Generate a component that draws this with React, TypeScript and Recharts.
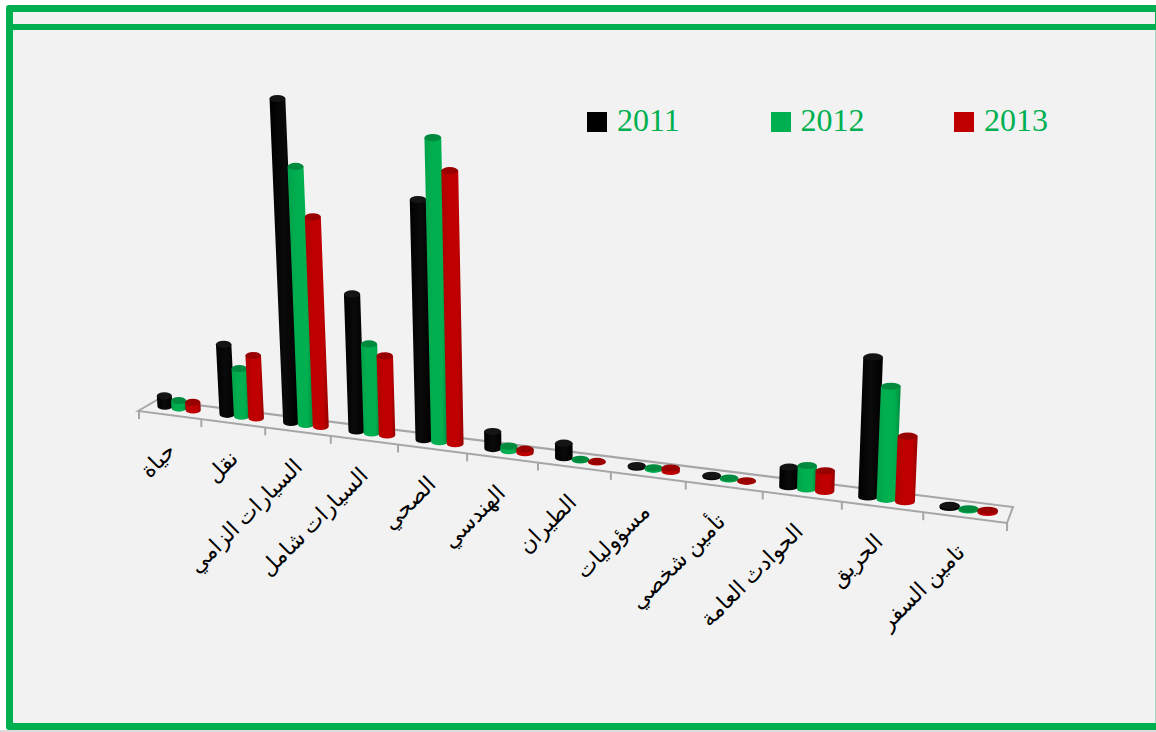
import { BarChart, Bar, XAxis, YAxis, Legend } from "recharts";

const categories = [
  "حياة",
  "نقل",
  "السيارات  الزامي",
  "السيارات شامل",
  "الصحي",
  "الهندسي",
  "الطيران",
  "مسؤوليات",
  "تأمين شخصي",
  "الحوادث العامة",
  "الحريق",
  "تامين السفر",
];

const values2011 = [10.5, 70, 324, 137, 240, 17, 14.5, 1.5, 1.5, 19.5, 140, 2];
const values2012 = [7.5, 47.5, 258, 89, 304, 4.5, 0.5, 1.5, 1, 23.5, 113, 1];
const values2013 = [7.5, 62.5, 209.5, 79, 273, 3.5, 0.5, 3.5, 0.5, 20.5, 65.5, 2];

const data = categories.map((name, i) => ({
  name,
  y2011: values2011[i],
  y2012: values2012[i],
  y2013: values2013[i],
}));

const WIDTH = 1156;
const HEIGHT = 732;
const BAND = WIDTH / categories.length;
const GREEN = "#00b050";
const RED = "#c00000";

// the original is a tilted 3D chart, so plot x goes through a small perspective map
const frontX = (u: number) => 139 + (61.54 * u) / (1 - 0.01244 * u);
const frontY = (x: number) => 411 + (x - 139) * 0.129;
const project = (plotX: number) => {
  const u = plotX / BAND;
  return frontX(u) + 9 - u / 2;
};

function Cylinder(props: any) {
  const { x, width, height, id, cap } = props;
  const cx = project(x + width / 2);
  const rx = ((project(x + width) - project(x)) / 2) * 1.07;
  const ry = 3.6;
  const baseY = frontY(cx) - 4.5 - ry;
  const h = Math.max(height, 0);
  // bars lean towards the vanishing point
  const topX = cx + (cx - 600) * 0.000136 * h;
  const topY = baseY - h;
  return (
    <g>
      <path
        d={`M${topX - rx},${topY} L${cx - rx},${baseY} A${rx},${ry} 0 0 0 ${cx + rx},${baseY} L${topX + rx},${topY} Z`}
        fill={`url(#${id})`}
      />
      <ellipse cx={topX} cy={topY} rx={rx} ry={ry} fill={cap} />
    </g>
  );
}

function CategoryTick(props: any) {
  const { x, payload } = props;
  const px = project(x) - 2;
  const py = frontY(px) + 36;
  return (
    <text
      x={px}
      y={py}
      textAnchor="end"
      fontFamily="'Liberation Serif', 'DejaVu Sans', serif"
      fontSize={22}
      fill="#000"
      transform={`rotate(-45 ${px} ${py})`}
    >
      {payload.value}
    </text>
  );
}

function Floor() {
  const ticks = Array.from({ length: categories.length + 1 }, (_, i) => frontX(i));
  return (
    <g stroke="#a6a6a6" strokeWidth={2} fill="none">
      <path d="M138,411 L157,400 L1013,507 L1007,523 Z" />
      {ticks.map((x, i) => (
        <line key={i} x1={x} x2={x} y1={frontY(x)} y2={frontY(x) + 8} />
      ))}
    </g>
  );
}

function YearLegend(props: any) {
  return (
    <div style={{ display: "flex" }}>
      {props.payload.map((item: any) => (
        <div key={item.value} style={{ width: 183.5, display: "flex", alignItems: "center" }}>
          <span style={{ width: 20, height: 20, marginTop: 4, background: item.color, marginRight: 10 }} />
          <span
            style={{
              color: GREEN,
              fontFamily: "'Liberation Serif', serif",
              fontSize: 32,
              lineHeight: "40px",
            }}
          >
            {item.value}
          </span>
        </div>
      ))}
    </div>
  );
}

export default function App() {
  return (
    <div style={{ position: "absolute", left: 0, top: 0, width: WIDTH, height: HEIGHT, background: "#fff", overflow: "hidden" }}>
      <div style={{ position: "absolute", left: 6, top: 5, right: 0, height: 725, background: GREEN, borderRadius: "3px 0 0 3px" }} />
      <div style={{ position: "absolute", left: 13, top: 12, right: 1, height: 12, background: "#f2f2f2" }} />
      <div style={{ position: "absolute", left: 13, top: 30, right: 1, height: 693, background: "#f2f2f2" }} />
      <div style={{ position: "absolute", left: 0, top: 730, right: 0, height: 2, background: "#dcdcdc" }} />
      <div style={{ position: "absolute", right: 0, top: 30, width: 1, height: 693, background: "#a8d8c4" }} />
      <div style={{ position: "absolute", left: 0, top: 0 }}>
        <BarChart
          width={WIDTH}
          height={HEIGHT}
          data={data}
          margin={{ top: 0, right: 0, bottom: 0, left: 0 }}
          barCategoryGap="16.25%"
          barGap={0}
        >
          <defs>
            <linearGradient id="cylBlack" x1="0" x2="1" y1="0" y2="0">
              <stop offset="0" stopColor="#000" />
              <stop offset="0.5" stopColor="#0a0a0a" />
              <stop offset="1" stopColor="#000" />
            </linearGradient>
            <linearGradient id="cylGreen" x1="0" x2="1" y1="0" y2="0">
              <stop offset="0" stopColor="#00a34a" />
              <stop offset="0.4" stopColor={GREEN} />
              <stop offset="0.75" stopColor={GREEN} />
              <stop offset="1" stopColor="#008a3e" />
            </linearGradient>
            <linearGradient id="cylRed" x1="0" x2="1" y1="0" y2="0">
              <stop offset="0" stopColor="#b00000" />
              <stop offset="0.4" stopColor={RED} />
              <stop offset="0.75" stopColor={RED} />
              <stop offset="1" stopColor="#960000" />
            </linearGradient>
          </defs>
          <Floor />
          <XAxis dataKey="name" height={32} interval={0} axisLine={false} tickLine={false} tick={<CategoryTick />} />
          <YAxis hide domain={[0, 700]} />
          <Legend
            layout="horizontal"
            verticalAlign="middle"
            align="center"
            content={<YearLegend />}
            wrapperStyle={{ left: 587, top: 100, width: 560 }}
          />
          <Bar
            dataKey="y2011"
            name="2011"
            fill="#000"
            isAnimationActive={false}
            shape={(p: any) => <Cylinder {...p} id="cylBlack" cap="#141414" />}
          />
          <Bar
            dataKey="y2012"
            name="2012"
            fill={GREEN}
            isAnimationActive={false}
            shape={(p: any) => <Cylinder {...p} id="cylGreen" cap="#008a3e" />}
          />
          <Bar
            dataKey="y2013"
            name="2013"
            fill={RED}
            isAnimationActive={false}
            shape={(p: any) => <Cylinder {...p} id="cylRed" cap="#990000" />}
          />
        </BarChart>
      </div>
    </div>
  );
}
